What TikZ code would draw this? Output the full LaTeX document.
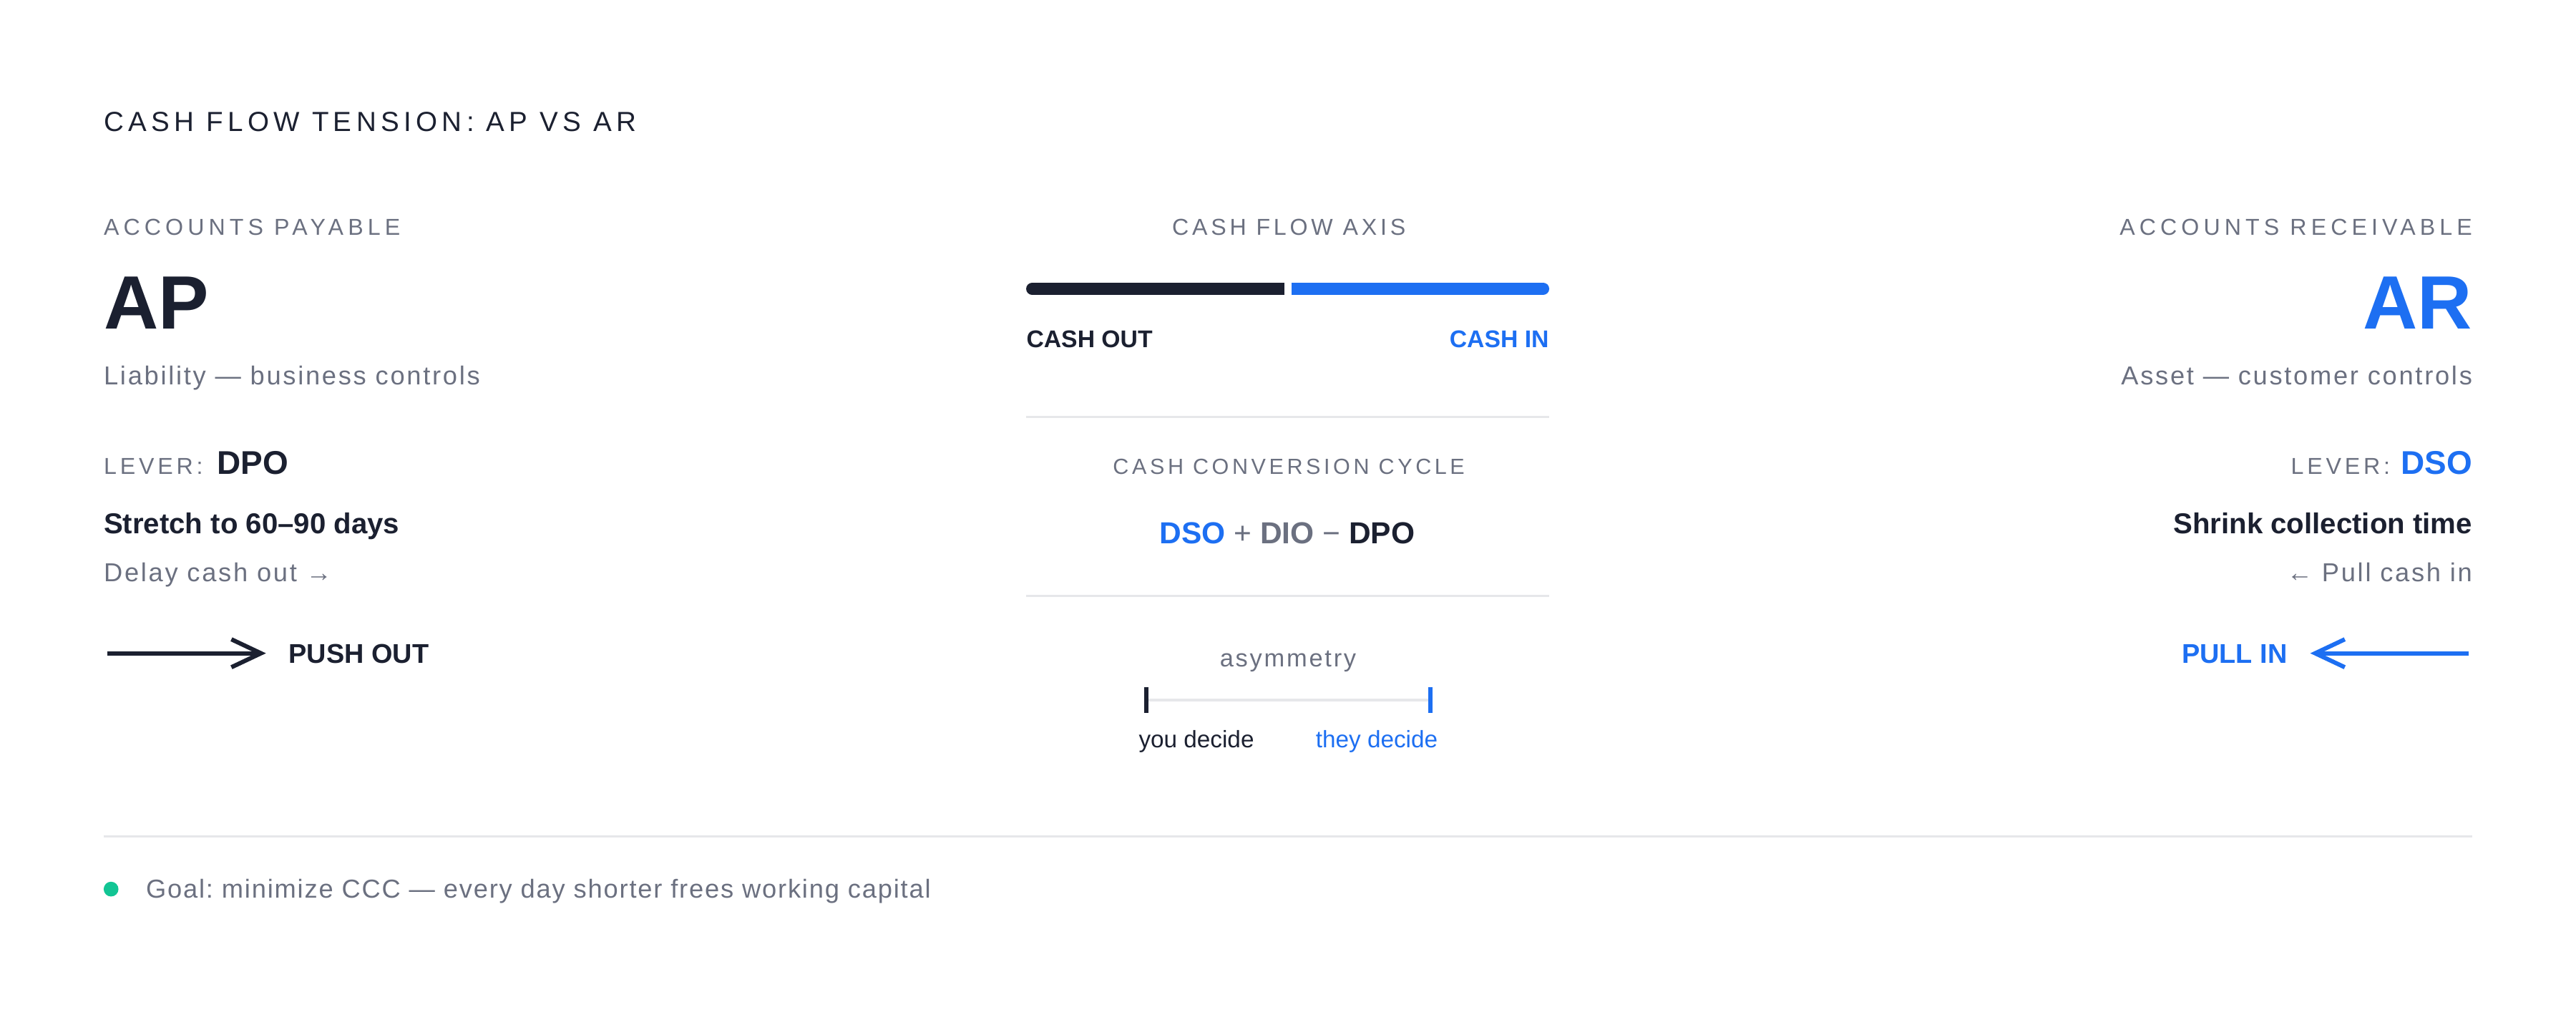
\documentclass[tikz,border=0pt]{standalone}
\usepackage{fontspec}
\setmainfont{Liberation Sans}
\newfontfamily\spaced[LetterSpace=15]{Liberation Sans}
\newfontfamily\widespaced[LetterSpace=19]{Liberation Sans}
\newfontfamily\tracked[LetterSpace=7.5]{Liberation Sans}
\usetikzlibrary{calc}
\usetikzlibrary{arrows.meta}
\definecolor{ink}{HTML}{1B2030}
\definecolor{mute}{HTML}{6B7080}
\definecolor{cashblue}{HTML}{1D6FF2}
\definecolor{rulegray}{HTML}{E6E7EA}
\definecolor{goalgreen}{HTML}{12C594}
\frenchspacing

\begin{document}
\begin{tikzpicture}[x=1pt,y=-1pt,
  caption/.style={inner sep=0, text=mute, font=\spaced\fontsize{14}{16}\selectfont},
  sidecap/.style={caption, font=\widespaced\fontsize{14}{16}\selectfont},
  bigtag/.style={inner sep=0, font=\bfseries\fontsize{46}{50}\selectfont},
  subline/.style={inner sep=0, text=mute, font=\tracked\fontsize{15.8}{18}\selectfont},
  levername/.style={inner sep=0, font=\bfseries\fontsize{20}{22}\selectfont},
  task/.style={inner sep=0, text=ink, font=\bfseries\fontsize{17.5}{20}\selectfont},
  flowtag/.style={inner sep=0, font=\bfseries\fontsize{16.5}{18}\selectfont},
  axistag/.style={inner sep=0, font=\bfseries\fontsize{14.7}{16}\selectfont},
  sepline/.style={rulegray, line width=1.3pt},
  flowarrow/.style={line width=2.6pt, -{Straight Barb[length=18pt, width=17pt]}},
  tick/.style={line width=2.6pt}
]
\useasboundingbox (0,0) rectangle (1568,614.2);

% title
\node[anchor=base west, inner sep=0, text=ink, font=\fontsize{16.8}{20}\selectfont\addfontfeature{LetterSpace=16.5}] (title) at (63,80) {CASH FLOW TENSION: AP VS AR};

% accounts payable
\node[sidecap, anchor=base west] (apcap) at (63,143) {ACCOUNTS PAYABLE};
\node[bigtag, text=ink, anchor=base west] (ap) at (63,200) {AP};
\node[subline, anchor=base west] (apsub) at (63,234) {Liability — business controls};
\node[caption, anchor=base west] (aplever) at (63,288.5) {LEVER:};
\node[levername, text=ink, anchor=base west] (dpo) at (132,288.5) {DPO};
\node[task, anchor=base west] (apgoal) at (63,324.5) {Stretch to 60–90 days};
\node[subline, anchor=base west] (apnote) at (63,354) {Delay cash out →};
\coordinate (pushA) at (65.3,397.5);
\coordinate (pushB) at (161.9,397.5);
\draw[flowarrow, ink] (pushA) -- (pushB);
\node[flowtag, text=ink, anchor=base west] (push) at (175.6,403.5) {PUSH OUT};

% accounts receivable
\node[sidecap, anchor=base east] (arcap) at (1505,143) {ACCOUNTS RECEIVABLE};
\node[bigtag, text=cashblue, anchor=base east] (ar) at (1505,200) {AR};
\node[subline, anchor=base east] (arsub) at (1505,234) {Asset — customer controls};
\node[levername, text=cashblue, anchor=base east] (dso) at (1505,288.5) {DSO};
\node[caption, anchor=base east] (arlever) at (1455,288.5) {LEVER:};
\node[task, anchor=base east] (argoal) at (1505,324.5) {Shrink collection time};
\node[subline, anchor=base east] (arnote) at (1505,354) {← Pull cash in};
\coordinate (pullA) at (1502.7,397.5);
\coordinate (pullB) at (1406.2,397.5);
\draw[flowarrow, cashblue] (pullA) -- (pullB);
\node[flowtag, text=cashblue, anchor=base east] (pull) at (1392.4,403.5) {PULL IN};

% cash flow axis
\node[caption, anchor=base] (axiscap) at (784.5,143) {CASH FLOW AXIS};
\coordinate (outL) at (628.35,175.7);
\coordinate (outM) at (700,175.7);
\coordinate (outR) at (781.8,175.7);
\coordinate (inL) at (786,175.7);
\coordinate (inM) at (860,175.7);
\coordinate (inR) at (939.25,175.7);
\draw[ink, line width=7.5pt, line cap=round] (outL) -- (outM);
\draw[ink, line width=7.5pt] (outM) -- (outR);
\draw[cashblue, line width=7.5pt] (inL) -- (inM);
\draw[cashblue, line width=7.5pt, line cap=round] (inM) -- (inR);
\node[axistag, text=ink, anchor=base west] (cashout) at (624.6,211.5) {CASH OUT};
\node[axistag, text=cashblue, anchor=base east] (cashin) at (943,211.5) {CASH IN};
\draw[sepline] (624.6,253.6) -- (943,253.6);

% cash conversion cycle
\node[caption, font=\spaced\fontsize{13.3}{15}\selectfont, anchor=base] (ccccap) at (784.5,288.7) {CASH CONVERSION CYCLE};
\node[inner sep=0, text=ink, font=\bfseries\fontsize{18.5}{20}\selectfont, anchor=base] (ccc) at (783.5,331)
  {\textcolor{cashblue}{DSO} \textcolor{mute}{\mdseries +} \textcolor{mute}{DIO} \textcolor{mute}{\mdseries −} DPO};
\draw[sepline] (624.6,362.6) -- (943,362.6);

% asymmetry
\node[inner sep=0, text=mute, font=\fontsize{15}{17}\selectfont\addfontfeature{LetterSpace=8}, anchor=base] (asym) at (784,405.8) {asymmetry};
\coordinate (youT) at (697.7,418);
\coordinate (youB) at (697.7,434);
\coordinate (theyT) at (870.5,418);
\coordinate (theyB) at (870.5,434);
\draw[rulegray, line width=1.5pt] ($(youT)!.5!(youB)$) -- ($(theyT)!.5!(theyB)$);
\draw[tick, ink] (youT) -- (youB);
\draw[tick, cashblue] (theyT) -- (theyB);
\node[inner sep=0, text=ink, font=\fontsize{14.5}{16}\selectfont, anchor=base west] (you) at (693,455) {you decide};
\node[inner sep=0, text=cashblue, font=\fontsize{14.5}{16}\selectfont, anchor=base east] (they) at (875.3,455) {they decide};

% goal
\draw[sepline] (63,509) -- (1505,509);
\fill[goalgreen] (67.6,541) circle (4.5pt);
\node[subline, font=\fontsize{15.8}{18}\selectfont\addfontfeature{LetterSpace=5}, anchor=base west] (goal) at (88.7,546.6) {Goal: minimize CCC — every day shorter frees working capital};
\end{tikzpicture}
\end{document}
